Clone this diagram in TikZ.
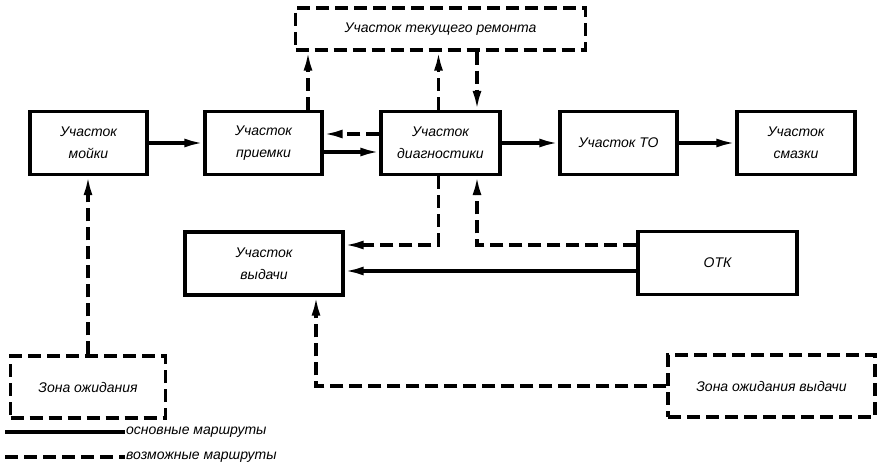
\documentclass[tikz,border=0pt]{standalone}
\usepackage{fontspec}
\setmainfont{Liberation Sans}
\usetikzlibrary{arrows.meta}
\tikzset{
  box/.style={draw, line width=3.2pt, align=center, inner sep=2pt,
    font=\fontsize{14}{22}\selectfont\itshape, minimum height=63pt},
  dbox/.style={box, dash pattern=on 13pt off 6pt},
  route/.style={line width=3.2pt, -{Latex[length=19pt,width=9pt]}},
  droute/.style={route, dash pattern=on 13pt off 6pt},
  legtext/.style={font=\fontsize{14}{16}\selectfont\itshape, anchor=west, inner sep=1pt}
}
\begin{document}
\begin{tikzpicture}[x=1pt,y=-1pt]
\useasboundingbox (0,0) rectangle (877,473);

% main line of sections
\node[box, minimum width=117pt] (moyki) at (88.5,143) {Участок\\мойки};
\node[box, minimum width=117pt] (priem) at (263.5,143) {Участок\\приемки};
\node[box, minimum width=119pt] (diag) at (440.5,143) {Участок\\диагностики};
\node[box, minimum width=117pt] (to) at (618.5,143) {Участок ТО};
\node[box, minimum width=118pt] (smaz) at (796,143) {Участок\\смазки};

% repair, delivery and inspection
\node[dbox, minimum width=290pt, minimum height=42pt] (remont) at (440.5,29) {Участок текущего ремонта};
\node[box, minimum width=158pt] (vyd) at (264,263.5) {Участок\\выдачи};
\node[box, minimum width=159pt] (otk) at (717.5,263) {ОТК};

% waiting zones
\node[dbox, minimum width=155pt, minimum height=62pt] (zona) at (88,387) {Зона ожидания};
\node[dbox, minimum width=207pt, minimum height=62pt] (zonav) at (771.5,386) {Зона ожидания выдачи};

% main routes
\draw[route] (moyki.east) -- (priem.west);
\draw[route] ([yshift=-9pt]priem.east) -- ([yshift=-9pt]diag.west);
\draw[route] (diag.east) -- (to.west);
\draw[route] (to.east) -- (smaz.west);
\draw[route] ([yshift=-8pt]otk.west) -- ([yshift=-8pt]otk.west -| vyd.east);

% possible routes
\draw[droute] ([yshift=9pt]diag.west) -- ([yshift=9pt]priem.east);
\draw[droute] ([xshift=44.5pt]priem.north) -- ([xshift=44.5pt]priem.north |- remont.south);
\draw[droute] ([xshift=-2pt]diag.north) -- ([xshift=-2pt]diag.north |- remont.south);
\draw[droute] ([xshift=36.5pt]diag.north |- remont.south) -- ([xshift=36.5pt]diag.north);
\draw[droute] ([xshift=-2pt]diag.south) |- ([yshift=18.5pt]vyd.east);
\draw[droute] ([yshift=18pt]otk.west) -| ([xshift=36.5pt]diag.south);
\draw[droute] (zona.north) -- (zona.north |- moyki.south);
\draw[droute] (zonav.west) -| ([xshift=52pt]vyd.south);

% legend
\coordinate (l1a) at (5,432);
\coordinate (l1b) at (125,432);
\coordinate (l2a) at (5,457);
\coordinate (l2b) at (125,457);
\draw[line width=3.2pt] (l1a) -- (l1b);
\draw[line width=3.2pt, dash pattern=on 13pt off 6pt] (l2a) -- (l2b);
\node[legtext] (leg1) at (l1b) {основные маршруты};
\node[legtext] (leg2) at (l2b) {возможные маршруты};
\end{tikzpicture}
\end{document}
